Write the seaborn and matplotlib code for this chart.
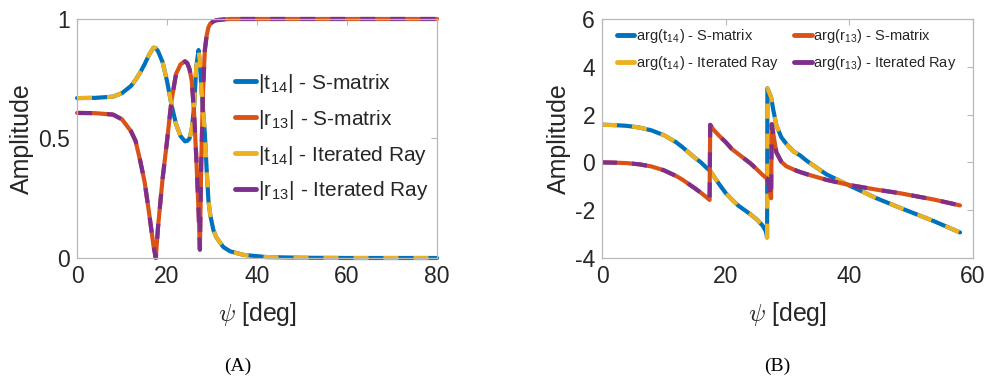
import matplotlib
matplotlib.use("Agg")
import matplotlib.pyplot as plt
import seaborn as sns

# ---------------- data ----------------
psi_a = [0, 4, 8, 10, 12, 13, 14, 15, 16, 17, 17.5, 18, 19, 20, 21, 22, 23, 24, 24.5, 25,
         25.5, 26, 26.5, 27, 27.3, 27.6, 28, 28.4, 28.8, 29.2, 29.6, 30.3, 31, 32.5, 34,
         37, 42, 50, 60, 70, 80]
t14_abs_smatrix = [0.669, 0.670, 0.675, 0.69, 0.72, 0.745, 0.775, 0.81, 0.85, 0.88,
                   0.878, 0.865, 0.82, 0.74, 0.64, 0.56, 0.51, 0.488, 0.49, 0.50,
                   0.54, 0.63, 0.80, 0.87, 0.82, 0.72, 0.62, 0.52, 0.37, 0.24,
                   0.18, 0.117, 0.085, 0.046, 0.028, 0.013, 0.004, 0.001, 0, 0, 0]
r13_abs_smatrix = [0.607, 0.606, 0.600, 0.58, 0.53, 0.49, 0.41, 0.32, 0.19, 0.05,
                   0.0, 0.13, 0.33, 0.49, 0.66, 0.77, 0.81, 0.823, 0.815, 0.79,
                   0.74, 0.61, 0.42, 0.20, 0.035, 0.40, 0.70, 0.87, 0.93, 0.965,
                   0.98, 0.99, 0.995, 0.998, 1.0, 1.0, 1.0, 1.0, 1.0, 1.0, 1.0]
t14_abs_ray = [0.669, 0.670, 0.675, 0.69, 0.72, 0.745, 0.775, 0.81, 0.85, 0.88,
               0.878, 0.865, 0.82, 0.74, 0.64, 0.56, 0.51, 0.488, 0.49, 0.50,
               0.54, 0.63, 0.80, 0.87, 0.82, 0.72, 0.62, 0.52, 0.37, 0.24,
               0.18, 0.117, 0.085, 0.046, 0.028, 0.013, 0.004, 0.001, 0, 0, 0]
r13_abs_ray = [0.607, 0.606, 0.600, 0.58, 0.53, 0.49, 0.41, 0.32, 0.19, 0.05,
               0.0, 0.13, 0.33, 0.49, 0.66, 0.77, 0.81, 0.823, 0.815, 0.79,
               0.74, 0.61, 0.42, 0.20, 0.035, 0.40, 0.70, 0.87, 0.93, 0.965,
               0.98, 0.99, 0.995, 0.998, 1.0, 1.0, 1.0, 1.0, 1.0, 1.0, 1.0]

psi_b = [0, 2, 4, 6, 8, 10, 12, 13, 14, 15, 16, 17, 17.4, 17.5, 18, 19, 20, 21, 22, 24,
         25, 26, 26.5, 26.7, 26.75, 27.0, 27.35, 27.45, 27.7, 28.2, 29, 29.8, 31, 32, 33.2,
         36.3, 40.1, 44.4, 48.2, 53.6, 57.9]
t14_arg_smatrix = [1.576, 1.56, 1.53, 1.46, 1.34, 1.14, 0.84, 0.64, 0.42, 0.2,
                   0.0, -0.25, -0.33, -0.36, -0.55, -0.93, -1.28, -1.55, -1.8, -2.17,
                   -2.38, -2.65, -2.88, -3.14, 3.1, 2.95, 2.72, 2.58, 2.2, 1.55,
                   1.05, 0.78, 0.45, 0.3, 0.05, -0.5, -0.98, -1.5, -1.9, -2.45, -2.93]
r13_arg_smatrix = [0.0, -0.01, -0.03, -0.08, -0.17, -0.33, -0.57, -0.72, -0.9, -1.08,
                   -1.27, -1.48, -1.57, 1.57, 1.38, 1.1, 0.85, 0.56, 0.36, -0.04,
                   -0.28, -0.53, -0.64, -0.68, -0.7, -0.95, -1.5, 1.6, 1.2, 0.42,
                   0.03, -0.16, -0.3, -0.4, -0.5, -0.73, -0.95, -1.14, -1.29, -1.55, -1.8]
t14_arg_ray = [1.576, 1.56, 1.53, 1.46, 1.34, 1.14, 0.84, 0.64, 0.42, 0.2,
               0.0, -0.25, -0.33, -0.36, -0.55, -0.93, -1.28, -1.55, -1.8, -2.17,
               -2.38, -2.65, -2.88, -3.14, 3.1, 2.95, 2.72, 2.58, 2.2, 1.55,
               1.05, 0.78, 0.45, 0.3, 0.05, -0.5, -0.98, -1.5, -1.9, -2.45, -2.93]
r13_arg_ray = [0.0, -0.01, -0.03, -0.08, -0.17, -0.33, -0.57, -0.72, -0.9, -1.08,
               -1.27, -1.48, -1.57, 1.57, 1.38, 1.1, 0.85, 0.56, 0.36, -0.04,
               -0.28, -0.53, -0.64, -0.68, -0.7, -0.95, -1.5, 1.6, 1.2, 0.42,
               0.03, -0.16, -0.3, -0.4, -0.5, -0.73, -0.95, -1.14, -1.29, -1.55, -1.8]

labels_a = [r"|t$_{\mathregular{14}}$| - S-matrix", r"|r$_{\mathregular{13}}$| - S-matrix",
            r"|t$_{\mathregular{14}}$| - Iterated Ray", r"|r$_{\mathregular{13}}$| - Iterated Ray"]
labels_b = [r"arg(t$_{\mathregular{14}}$) - S-matrix", r"arg(r$_{\mathregular{13}}$) - S-matrix",
            r"arg(t$_{\mathregular{14}}$) - Iterated Ray", r"arg(r$_{\mathregular{13}}$) - Iterated Ray"]
xticks_a = [0, 20, 40, 60, 80]
yticks_a = [0, 0.5, 1]
xticks_b = [0, 20, 40, 60]
yticks_b = [-4, -2, 0, 2, 4, 6]
captions = ["(A)", "(B)"]

# ---------------- style ----------------
sns.set_theme(style="white")
plt.rcParams["font.family"] = ["Liberation Sans", "DejaVu Sans"]
plt.rcParams["mathtext.fontset"] = "cm"
plt.rcParams["mathtext.default"] = "it"

BLUE, ORANGE, YELLOW, PURPLE = "#0072BD", "#D95319", "#EDB120", "#7E2F8E"
SPINE = "#b8b8b8"
TXT = "#262626"
LW = 3.0
DASH = (0, (3.6, 3.6))

fig = plt.figure(figsize=(9.89, 3.82), dpi=100)
ax1 = fig.add_axes([0.0779, 0.3246, 0.364, 0.6257])
ax2 = fig.add_axes([0.6087, 0.3246, 0.3751, 0.6257])


def style_axes(ax, xt, yt, xl, yl):
    ax.set_xlim(*xl)
    ax.set_ylim(*yl)
    ax.set_xticks(xt)
    ax.set_yticks(yt)
    ax.set_yticklabels([f"{v:g}" for v in yt])
    ax.tick_params(direction="in", top=True, right=True, length=4, width=0.8,
                   color=SPINE, labelcolor=TXT, labelsize=16.5, pad=5)
    for s in ax.spines.values():
        s.set_color(SPINE)
        s.set_linewidth(0.9)
    ax.set_xlabel(r"$\psi$ [deg]", fontsize=18, color=TXT, labelpad=9)
    ax.set_ylabel("Amplitude", fontsize=18, color=TXT, labelpad=3)


def solid_handles(leg):
    for ln in leg.get_lines():
        ln.set_linestyle("-")
        ln.set_linewidth(3.5)


# left panel
sns.lineplot(x=psi_a, y=t14_abs_smatrix, ax=ax1, color=BLUE, lw=LW, label=labels_a[0])
sns.lineplot(x=psi_a, y=r13_abs_smatrix, ax=ax1, color=ORANGE, lw=LW, label=labels_a[1])
sns.lineplot(x=psi_a, y=t14_abs_ray, ax=ax1, color=YELLOW, lw=LW, linestyle=DASH, label=labels_a[2])
sns.lineplot(x=psi_a, y=r13_abs_ray, ax=ax1, color=PURPLE, lw=LW, linestyle=DASH, label=labels_a[3])
style_axes(ax1, xticks_a, yticks_a, (0, 80), (0, 1))
ax1.set_yticklabels(["0", "0.5", "1"])
for l in ax1.get_lines():
    l.set_clip_on(False)
leg1 = ax1.legend(loc="center left", bbox_to_anchor=(0.44, 0.506), frameon=False,
                  fontsize=15, handlelength=1.0, handletextpad=0.1, labelspacing=0.62,
                  borderpad=0, borderaxespad=0, labelcolor=TXT)
solid_handles(leg1)

# right panel
sns.lineplot(x=psi_b, y=t14_arg_smatrix, ax=ax2, color=BLUE, lw=LW, label=labels_b[0])
sns.lineplot(x=psi_b, y=t14_arg_ray, ax=ax2, color=YELLOW, lw=LW, linestyle=DASH, label=labels_b[2])
sns.lineplot(x=psi_b, y=r13_arg_smatrix, ax=ax2, color=ORANGE, lw=LW, label=labels_b[1])
sns.lineplot(x=psi_b, y=r13_arg_ray, ax=ax2, color=PURPLE, lw=LW, linestyle=DASH, label=labels_b[3])
style_axes(ax2, xticks_b, yticks_b, (0, 60), (-4, 6))
leg2 = ax2.legend(loc="center left", bbox_to_anchor=(0.04, 0.872), frameon=False, ncol=2,
                  fontsize=10.5, handlelength=1.2, handletextpad=0.1, labelspacing=0.6,
                  columnspacing=1.1, borderpad=0, borderaxespad=0, labelcolor=TXT)
solid_handles(leg2)

# captions
fig.text(0.24, 0.042, captions[0], ha="center", va="center", fontsize=14,
         family=["Liberation Serif", "DejaVu Serif"], color="black")
fig.text(0.786, 0.042, captions[1], ha="center", va="center", fontsize=14,
         family=["Liberation Serif", "DejaVu Serif"], color="black")

fig.savefig("out.png", dpi=100, facecolor="white")
